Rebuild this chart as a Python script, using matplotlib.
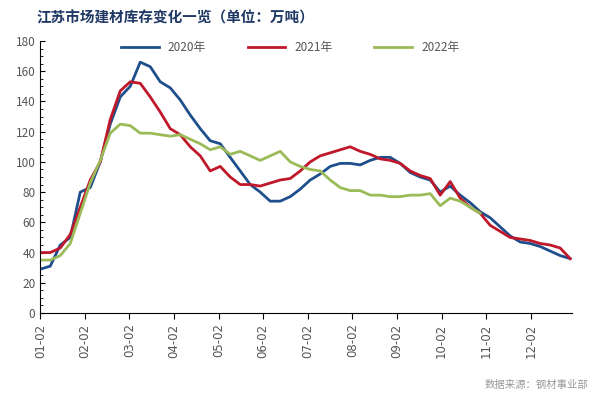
import numpy as np
import matplotlib
matplotlib.use("Agg")
import matplotlib.pyplot as plt
from matplotlib.ticker import MultipleLocator

plt.rcParams["font.family"] = ["Noto Sans CJK SC", "DejaVu Sans"]

month_labels = ["01-02", "02-02", "03-02", "04-02", "05-02", "06-02",
                "07-02", "08-02", "09-02", "10-02", "11-02", "12-02"]

# weekly readings, spaced ~a quarter month apart
inv_2020 = [29, 31, 45, 50, 80, 83, 100, 125, 143, 150, 166, 163, 153, 149, 141, 131,
            122, 114, 112, 103, 94, 85, 80, 74, 74, 77, 82, 88, 92, 97, 99, 99,
            98, 101, 103, 103, 99, 93, 90, 88, 80, 84, 78, 73, 67, 63, 57, 51,
            47, 46, 44, 41, 38, 36]
inv_2021 = [40, 40, 43, 52, 70, 88, 100, 128, 147, 153, 152, 143, 133, 122, 118, 110,
            104, 94, 97, 90, 85, 85, 84, 86, 88, 89, 94, 100, 104, 106, 108, 110,
            107, 105, 102, 101, 99, 94, 91, 89, 78, 87, 76, 70, 66, 58, 54, 50,
            49, 48, 46, 45, 43, 36]
inv_2022 = [35, 35, 38, 46, 66, 86, 101, 119, 125, 124, 119, 119, 118, 117, 118, 115,
            112, 108, 110, 105, 107, 104, 101, 104, 107, 100, 97, 95, 94, 88, 83, 81,
            81, 78, 78, 77, 77, 78, 78, 79, 71, 76, 74, 70, 66]

step = 10 / 44.6  # months per weekly point

fig = plt.figure(figsize=(6.1, 4.0), dpi=100)
ax = fig.add_axes([0.066, 0.2175, 0.872, 0.68])

for vals, color, name in [(inv_2020, "#1f4e8c", "2020年"),
                          (inv_2021, "#c0182a", "2021年"),
                          (inv_2022, "#9bbb59", "2022年")]:
    x = np.arange(len(vals)) * step
    ax.plot(x, vals, color=color, lw=2, label=name)

ax.set_xlim(0, 532 / 44.6)
ax.set_ylim(0, 180)
ax.yaxis.set_major_locator(MultipleLocator(20))
ax.yaxis.set_minor_locator(MultipleLocator(5))
ax.set_xticks(range(len(month_labels)))
ax.set_xticklabels(month_labels, rotation=90, color="#555555", fontsize=8.5, family="DejaVu Sans")
ax.tick_params(axis="y", labelsize=8.5, labelcolor="#555555", direction="in")
ax.tick_params(axis="y", which="minor", direction="in", length=2)
ax.tick_params(axis="x", direction="out", length=4)
ax.spines["top"].set_visible(False)
ax.spines["right"].set_visible(False)

ax.legend(loc="upper center", bbox_to_anchor=(0.47, 1.04), ncol=3, frameon=False,
          fontsize=8.5, handlelength=3.2, columnspacing=3.5, labelcolor="#555555")

fig.text(0.06, 0.945, "江苏市场建材库存变化一览（单位：万吨）", color="#1f3864",
         fontsize=10.5, fontweight="bold")
fig.text(0.965, 0.03, "数据来源：钢材事业部", color="#999999", fontsize=7.5, ha="right")

fig.savefig("out.png", dpi=100)
